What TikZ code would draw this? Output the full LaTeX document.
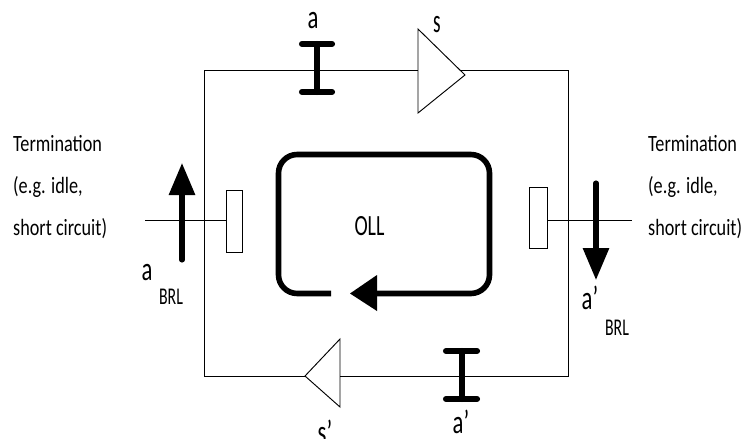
\documentclass[tikz,border=0pt]{standalone}
\usepackage{fontspec}
\setmainfont{Carlito}
\usetikzlibrary{arrows.meta, positioning}

\begin{document}
\begin{tikzpicture}[
    x=0.75pt, y=-0.75pt,
    wire/.style={draw=black, line width=0.7pt},
    heavy/.style={draw=black, line width=4.6pt, line cap=round},
    loopline/.style={draw=black, line width=4.2pt, rounded corners=14pt},
    fatarrow/.style={draw=black, line width=3.8pt, line cap=round, -{Triangle[length=24pt, width=19pt]}},
    termbox/.style={rectangle, draw=black, line width=0.7pt, inner sep=0pt},
    termtext/.style={align=left, inner sep=0pt, font=\fontsize{17.5}{31.5}\selectfont, xscale=0.78, transform shape},
    biglabel/.style={anchor=base, inner sep=0pt, font=\fontsize{25}{25}\selectfont, xscale=0.68, transform shape},
    smalllabel/.style={anchor=base, inner sep=0pt, font=\fontsize{18}{18}\selectfont, xscale=0.66, transform shape}
]
\useasboundingbox (0,0) rectangle (743,439);

% frame corners
\coordinate (tl) at (204,70);
\coordinate (tr) at (568,70);
\coordinate (br) at (568,376);
\coordinate (bl) at (204,376);

% amplifiers
\coordinate (sTop) at (418,29);
\coordinate (sTip) at (465,75);
\coordinate (sBot) at (418,113);
\coordinate (sIn) at (418,70);
\coordinate (sOut) at (460,70);
\coordinate (rTop) at (340,339);
\coordinate (rTip) at (305,376);
\coordinate (rBot) at (340,407);
\coordinate (rIn) at (340,376);
\draw[wire] (sTop) -- (sTip) -- (sBot) -- cycle;
\draw[wire] (rTop) -- (rTip) -- (rBot) -- cycle;

% main ring
\draw[wire] (sOut) -- (tr) -- (br) -- (rIn);
\draw[wire] (rTip) -- (bl) -- (tl) -- (sIn);

% attenuators
\draw[heavy] (302,44) -- (332,44) (317,44) -- (317,92) (302,92) -- (332,92);
\draw[heavy] (446,351) -- (477,351) (462,351) -- (462,399) (446,399) -- (477,399);

% terminations
\node[termbox, minimum width=12pt, minimum height=46pt] (tleft) at (234,221.5) {};
\node[termbox, minimum width=13.5pt, minimum height=46pt] (tright) at (538,218) {};
\coordinate (tleftEnd) at (145,220);
\coordinate (trightEnd) at (632,220);
\draw[wire] (tleftEnd) -- (tleft.west |- tleftEnd);
\draw[wire] (tright.east |- trightEnd) -- (trightEnd);

% return loss arrows
\coordinate (brlA) at (182,260);
\coordinate (brlB) at (182,163);
\coordinate (brlC) at (596,183);
\coordinate (brlD) at (596,280);
\draw[fatarrow] (brlA) -- (brlB);
\draw[fatarrow] (brlC) -- (brlD);

% loop
\coordinate (loopA) at (331,293.5);
\coordinate (loopB) at (350,293.5);
\draw[loopline] (loopA) -- (278.5,293.5) -- (278.5,154.5) -- (489.5,154.5) -- (489.5,293.5) -- (377,293.5);
\fill (loopB) -- (377,275) -- (377,311) -- cycle;

% labels
\node[biglabel] (la) at (313,28) {a};
\node[biglabel, xscale=0.85] (ls) at (437,32) {s};
\node[biglabel] (lap) at (461,433) {a\char"27};
\node[biglabel] (lsp) at (325,443) {s\char"27};
\node[biglabel] (lbrl) at (147,280) {a};
\node[biglabel] (lbrlp) at (590,309) {a\char"27};
\node[smalllabel] (brl) at (171,304) {BRL};
\node[smalllabel] (brlp) at (617,335) {BRL};
\node[biglabel, font=\fontsize{22}{22}\selectfont] (oll) at (369.5,235) {OLL};
\node[termtext, anchor=west] (tl1) at (13,187) {Termination\\(e.g. idle,\\short circuit)};
\node[termtext, anchor=west] (tr1) at (648,187) {Termination\\(e.g. idle,\\short circuit)};
\end{tikzpicture}
\end{document}
